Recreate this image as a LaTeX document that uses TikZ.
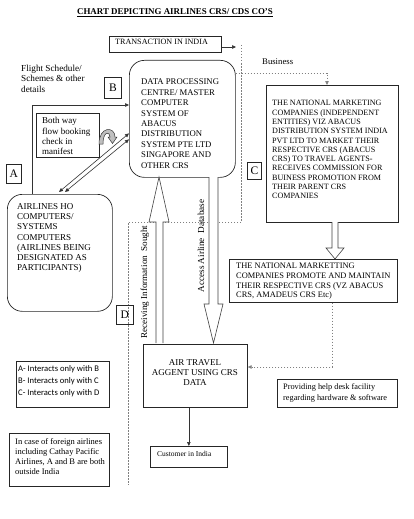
\documentclass[tikz,border=0pt]{standalone}
\usepackage{fontspec}
\setmainfont{Liberation Serif}
\newfontfamily\legendfont{Carlito}
\usetikzlibrary{arrows.meta}
\begin{document}
\begin{tikzpicture}[x=1pt,y=-1pt,
  box/.style={draw=black!85, line width=0.7pt, inner sep=0pt, anchor=north west},
  rbox/.style={box, rounded corners=15pt},
  txt/.style={inner sep=0pt, anchor=north west, align=left},
  letterbox/.style={draw=black!85, line width=0.7pt, inner sep=0pt, anchor=north west, font=\fontsize{11.5}{12}\selectfont},
  conn/.style={draw=black!80, line width=0.6pt},
  tip/.style={-{Triangle[length=4pt,width=3.5pt]}},
  bothtip/.style={{Triangle[length=4pt,width=3.5pt]}-{Triangle[length=4pt,width=3.5pt]}},
  dashline/.style={draw=black!50, line width=0.6pt, dash pattern=on 1.5pt off 1.5pt},
  blockarrow/.style={draw=black!75, line width=0.6pt, fill=white},
]
\useasboundingbox (0,0) rectangle (413,519);

% title
\node[inner sep=0pt, font=\bfseries\fontsize{8.9}{10}\selectfont] (title) at (175,13) {\underline{CHART DEPICTING AIRLINES CRS/ CDS CO'S}};

% transaction box
\node[box, minimum width=112pt, minimum height=16pt] (TR) at (109,36) {};
\node[inner sep=0pt, anchor=west, font=\fontsize{8.1}{9}\selectfont] (TRt) at (115,42) {TRANSACTION IN INDIA};
\coordinate (tre) at (236,47);
\draw[conn, tip] (TR.east |- tre) -- (tre);

% dashed boundary
\coordinate (d1) at (241,45);
\coordinate (d2) at (241,222);
\coordinate (d3) at (128,222);
\coordinate (d4) at (128,485);
\draw[dashline] (d1) -- (d2) -- (d3) -- (d4);

% flight schedule text
\node[txt, font=\fontsize{9.2}{10.5}\selectfont] (flight) at (21,64.5) {Flight Schedule/\\Schemes \& other\\details};

% B main box
\node[rbox, minimum width=106pt, minimum height=117pt] (B) at (129,60) {};
\node[txt, font=\fontsize{8.7}{10.4}\selectfont] (Bt) at (141,79) {DATA PROCESSING\\CENTRE/ MASTER\\COMPUTER\\SYSTEM OF\\ABACUS\\DISTRIBUTION\\SYSTEM PTE LTD\\SINGAPORE AND\\OTHER CRS};
\node[letterbox, minimum width=17pt, minimum height=21pt] (LB) at (104,77) {B};

% both way box
\node[box, minimum width=63pt, minimum height=44pt] (BW) at (36,113) {};
\node[txt, font=\fontsize{9}{10.3}\selectfont] (BWt) at (42,117.5) {Both way\\flow booking\\check in\\manifest};

% curved U arrow
\draw[draw=black!80, line width=0.5pt, fill=black!25]
  (99,144) .. controls (99,126) and (115,126) .. (115,137) -- (117,137) -- (112.5,143.5) -- (108,137)
  -- (110,137) .. controls (110,131) and (103,131) .. (103,144) -- cycle;

% A box
\node[rbox, minimum width=105pt, minimum height=117pt] (A) at (7,194) {};
\node[txt, font=\fontsize{9}{10.3}\selectfont] (At) at (17,203) {AIRLINES HO\\COMPUTERS/\\SYSTEMS\\COMPUTERS\\(AIRLINES BEING\\DESIGNATED AS\\PARTICIPANTS)};
\node[letterbox, minimum width=15pt, minimum height=19pt] (LA) at (6,164) {A};

% A -> B line
\coordinate (fl) at (32,105);
\draw[conn, tip] (fl |- A.north) -- (fl) -- (fl -| B.west);

% double arrows A <-> B
\draw[conn, bothtip] ([xshift=52pt,yshift=2pt]A.north west) -- ([yshift=-14.5pt]B.west);
\draw[conn, bothtip] ([xshift=58pt,yshift=2pt]A.north west) -- ([yshift=-20.5pt]B.west);

% C box
\node[box, minimum width=132pt, minimum height=137pt] (C) at (266,85) {};
\node[txt, font=\fontsize{8.1}{9.3}\selectfont] (Ct) at (272,100.3) {THE NATIONAL MARKETING\\COMPANIES (INDEPENDENT\\ENTITIES) VIZ ABACUS\\DISTRIBUTION SYSTEM INDIA\\PVT LTD TO MARKET THEIR\\RESPECTIVE CRS (ABACUS\\CRS) TO TRAVEL AGENTS-\\RECEIVES COMMISSION FOR\\BUINESS PROMOTION FROM\\THEIR PARENT CRS\\COMPANIES};
\node[letterbox, minimum width=14pt, minimum height=17pt] (LC) at (247,162) {C};

% business dashed
\coordinate (bus) at (327,73);
\draw[dashline, tip] (B.east |- bus) -- (bus) -- (bus |- C.north);
\node[inner sep=0pt, anchor=west, font=\fontsize{8.7}{10}\selectfont] (busl) at (262,62) {Business};

% N2 box
\node[box, minimum width=168pt, minimum height=43pt] (N2) at (229,259) {};
\node[txt, font=\fontsize{8.4}{9.7}\selectfont] (N2t) at (236,263) {THE NATIONAL MARKETTING\\COMPANIES PROMOTE AND MAINTAIN\\THEIR RESPECTIVE CRS (VZ ABACUS\\CRS, AMADEUS CRS Etc)};

% block arrow C -> N2
\draw[blockarrow] (332,222) -- (332,248) -- (326,248) -- (335,259) -- (344,248) -- (338,248) -- (338,222);

% Air travel box
\node[box, minimum width=104pt, minimum height=63pt] (AT) at (143,344) {};
\node[inner sep=0pt, align=center, font=\fontsize{9}{10}\selectfont] (ATt) at (195,373) {AIR TRAVEL\\AGGENT USING CRS\\DATA};

% dashed N2 -> AT
\coordinate (nd) at (332,367);
\draw[dashline, tip] (nd |- N2.south) -- (nd) -- (nd -| AT.east);

% block arrows B <-> AT
\draw[blockarrow] (156,343) -- (156,222) -- (149,222) -- (159,177) -- (169,222) -- (163,222) -- (163,343);
\draw[blockarrow] (209,177) -- (209,304) -- (204,304) -- (213.5,343) -- (223,304) -- (218,304) -- (218,177);
\node[inner sep=0pt, rotate=90, font=\fontsize{9.1}{10}\selectfont] (recv) at (145,282) {Receiving Information\ \ Sought};
\node[inner sep=0pt, rotate=90, font=\fontsize{9.2}{10}\selectfont] (acc) at (201,246) {Access Airline\ \ Database};

% D label
\node[letterbox, minimum width=17pt, minimum height=19pt] (LD) at (116,305) {D};

% help desk
\node[box, minimum width=120pt, minimum height=28pt] (HD) at (277,379) {};
\node[txt, font=\fontsize{8.3}{11}\selectfont] (HDt) at (283,383) {Providing help desk facility\\regarding hardware \& software};

% legend
\node[box, minimum width=93pt, minimum height=46pt] (LG) at (16,361) {};
\node[txt, font=\legendfont\fontsize{8.6}{11.8}\selectfont] (LGt) at (18,365.5) {A- Interacts only with B\\B- Interacts only with C\\C- Interacts only with D};

% foreign airlines
\node[box, minimum width=100pt, minimum height=53pt] (FA) at (9,433) {};
\node[txt, font=\fontsize{8.5}{10}\selectfont] (FAt) at (15,438) {In case of foreign airlines\\including Cathay Pacific\\Airlines, A and B are both\\outside India};

% customer
\node[box, minimum width=77pt, minimum height=21pt] (CU) at (150,446) {};
\node[inner sep=0pt, anchor=west, font=\fontsize{7.5}{9}\selectfont] (CUt) at (157,454) {Customer in India};
\draw[conn, tip] (AT.south -| CU.north) -- (CU.north);

\end{tikzpicture}
\end{document}
